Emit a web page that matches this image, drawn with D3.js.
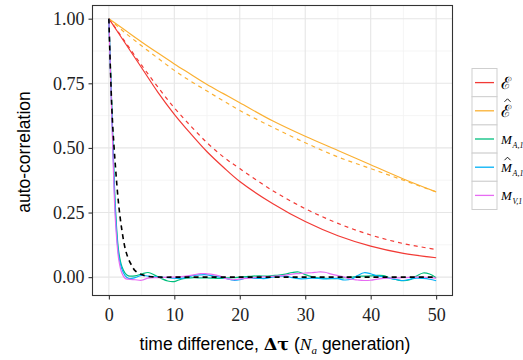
<!DOCTYPE html>
<html>
<head>
<meta charset="utf-8">
<script src="https://cdn.jsdelivr.net/npm/d3@7"></script>
<style>
  body { margin: 0; background: #fff; overflow: hidden; }
  svg { display: block; }
</style>
</head>
<body>
<div id="chartArea"></div>
<script>
// slow curves
const slowT = [0, 2.5, 5, 7.5, 10, 12.5, 15, 17.5, 20, 25, 30, 35, 40, 45, 50];
const epsSolid = [1, 0.905, 0.81, 0.715, 0.63, 0.555, 0.485, 0.425, 0.37, 0.285, 0.215, 0.16, 0.12, 0.092, 0.075];
const epsDashed = [1, 0.91, 0.82, 0.735, 0.655, 0.585, 0.52, 0.465, 0.42, 0.335, 0.265, 0.208, 0.163, 0.13, 0.107];
const hatSolid = [1, 0.955, 0.91, 0.867, 0.825, 0.785, 0.745, 0.71, 0.675, 0.605, 0.545, 0.49, 0.435, 0.38, 0.33];
const hatDashed = [1, 0.945, 0.895, 0.847, 0.80, 0.758, 0.72, 0.682, 0.645, 0.58, 0.52, 0.465, 0.42, 0.375, 0.33];

// fast curves
const fastT = [0, 0.5, 1, 1.5, 2, 2.5, 3, 4, 5, 6, 7, 8, 9, 10, 11, 12, 13, 14, 15, 16, 17, 18, 19, 20,
  21, 22, 23, 24, 25, 26, 27, 28, 29, 30, 31, 32, 33, 34, 35, 36, 37, 38, 39, 40,
  41, 42, 43, 44, 45, 46, 47, 48, 49, 50];
const mA = [1, 0.62, 0.27, 0.10, 0.04, 0.015, 0.005, 0.005, 0.012, 0.018, 0.008, -0.005, -0.015, -0.017,
  -0.008, -0.004, -0.002, -0.003, -0.003, -0.004, -0.005, -0.003, -0.002, 0.0,
  0.002, 0.004, 0.005, 0.004, 0.006, 0.008, 0.012, 0.018, 0.02, 0.01, 0.002, -0.003, -0.005, -0.006, -0.005,
  -0.002, 0.0, 0.003, 0.004, 0.005, 0.007, 0.006, -0.004, -0.01, -0.014, -0.01, 0.004, 0.016, 0.012, -0.002];
const mAhat = [1, 0.6, 0.25, 0.085, 0.03, 0.005, -0.005, -0.002, 0.007, 0.004, 0.001, 0.0, -0.002, -0.004,
  -0.005, 0.0, 0.007, 0.009, 0.009, 0.004, 0.0, -0.006, -0.012, -0.01,
  -0.003, -0.004, -0.005, -0.005, 0.0, 0.003, 0.004, -0.002, -0.006, -0.006, -0.004, -0.005, -0.007, -0.005, -0.006,
  -0.011, -0.008, 0.006, 0.017, 0.013, 0.005, 0.001, -0.005, -0.01, -0.013, -0.008, -0.004, -0.005, -0.008, -0.014];
const mV = [1, 0.58, 0.22, 0.07, 0.015, -0.005, -0.008, -0.01, -0.012, -0.004, -0.002, -0.002, 0.0, 0.0,
  0.002, 0.005, 0.009, 0.014, 0.013, 0.01, 0.004, -0.006, -0.01, -0.007,
  -0.005, -0.002, 0.0, 0.002, 0.003, 0.005, 0.008, 0.012, 0.014, 0.016, 0.017, 0.02, 0.019, 0.012, 0.006,
  0.0, -0.008, -0.011, -0.013, -0.012, -0.008, -0.005, -0.004, -0.003, -0.002, -0.001, 0.0, 0.0, -0.002, -0.004];
const expT = [0, 0.5, 1, 1.5, 2, 2.5, 3, 3.5, 4, 5, 6, 8, 10, 20, 30, 40, 50];
const expVals = [1, 0.63, 0.43, 0.28, 0.18, 0.11, 0.07, 0.045, 0.025, 0.01, 0.003, 0, 0, 0, 0, 0, 0];

const xTicks = [0, 10, 20, 30, 40, 50];
const yTicks = [0, 0.25, 0.5, 0.75, 1];
const legendNames = ["E", "Ehat", "MA", "MAhat", "MV"];
const colors = ["#F23A35", "#FBB032", "#00BF7D", "#00B0F6", "#E76BF3"];

const margin = { top: 5.5, left: 92.5 };
const width = 360, height = 290;

const svg = d3.select("#chartArea").append("svg")
  .attr("width", 523).attr("height", 360);
const g = svg.append("g").attr("transform", `translate(${margin.left},${margin.top})`);

const x = d3.scaleLinear().domain([-2.5, 52.5]).range([0, width]);
const y = d3.scaleLinear().domain([-0.071, 1.051]).range([height, 0]);

// grid
const minorX = [5, 15, 25, 35, 45], minorY = [0.125, 0.375, 0.625, 0.875];
g.selectAll(".mx").data(minorX).enter().append("line")
  .attr("x1", d => x(d)).attr("x2", d => x(d)).attr("y1", 0).attr("y2", height)
  .attr("stroke", "#f3f3f3").attr("stroke-width", 0.8);
g.selectAll(".my").data(minorY).enter().append("line")
  .attr("y1", d => y(d)).attr("y2", d => y(d)).attr("x1", 0).attr("x2", width)
  .attr("stroke", "#f3f3f3").attr("stroke-width", 0.8);
g.selectAll(".gx").data(xTicks).enter().append("line")
  .attr("x1", d => x(d)).attr("x2", d => x(d)).attr("y1", 0).attr("y2", height)
  .attr("stroke", "#e6e6e6").attr("stroke-width", 1.1);
g.selectAll(".gy").data(yTicks).enter().append("line")
  .attr("y1", d => y(d)).attr("y2", d => y(d)).attr("x1", 0).attr("x2", width)
  .attr("stroke", "#e6e6e6").attr("stroke-width", 1.1);

// lines
const line = d3.line().x(d => x(d[0])).y(d => y(d[1])).curve(d3.curveCatmullRom.alpha(0.5));
function series(ts, vs) { return ts.map((t, i) => [t, vs[i]]); }

const lines = [
  { d: series(slowT, epsDashed), c: colors[0], dash: "4,4" },
  { d: series(slowT, hatDashed), c: colors[1], dash: "4,4" },
  { d: series(slowT, epsSolid), c: colors[0] },
  { d: series(slowT, hatSolid), c: colors[1] },
  { d: series(fastT, mA), c: colors[2] },
  { d: series(fastT, mAhat), c: colors[3] },
  { d: series(fastT, mV), c: colors[4] },
  { d: series(expT, expVals), c: "#000", dash: "5,4", w: 1.6 }
];
lines.forEach(l => {
  g.append("path").attr("d", line(l.d))
    .attr("fill", "none").attr("stroke", l.c)
    .attr("stroke-width", l.w || 1.2)
    .attr("stroke-dasharray", l.dash || null);
});

// panel border
g.append("rect").attr("width", width).attr("height", height)
  .attr("fill", "none").attr("stroke", "#333").attr("stroke-width", 1.1);

// axes
const xAxis = g.append("g").attr("transform", `translate(0,${height})`)
  .call(d3.axisBottom(x).tickValues(xTicks).tickSize(4).tickPadding(5).tickFormat(d3.format("d")));
const yAxis = g.append("g")
  .call(d3.axisLeft(y).tickValues(yTicks).tickSize(4).tickPadding(4).tickFormat(d3.format(".2f")));
[xAxis, yAxis].forEach(a => {
  a.select(".domain").remove();
  a.selectAll(".tick line").attr("stroke", "#333").attr("stroke-width", 1.1);
  a.selectAll("text").attr("fill", "#222")
    .style("font-family", "'Liberation Serif', serif").style("font-size", "18px");
});
xAxis.selectAll("text").attr("dy", "0.9em");

// axis titles
svg.append("text")
  .attr("transform", "translate(30,152) rotate(-90)")
  .attr("text-anchor", "middle")
  .style("font-family", "'Liberation Sans', Arial, sans-serif").style("font-size", "17.5px")
  .text("auto-correlation");

const xt = svg.append("text").attr("x", 275).attr("y", 350)
  .attr("text-anchor", "middle")
  .style("font-family", "'Liberation Sans', Arial, sans-serif").style("font-size", "17.5px");
xt.append("tspan").text("time difference, ");
xt.append("tspan").style("font-family", "'DejaVu Serif', serif").style("font-weight", "bold").text("Δτ");
xt.append("tspan").text(" (");
xt.append("tspan").style("font-family", "'Liberation Serif', serif").style("font-style", "italic").text("N");
xt.append("tspan").attr("dy", 4).style("font-family", "'Liberation Serif', serif")
  .style("font-style", "italic").style("font-size", "11px").text("a");
xt.append("tspan").attr("dy", -4).text(" generation)");

// legend
const legend = svg.append("g").attr("transform", "translate(472,68.5)");
const keyH = 28.2, keyW = 25;
function hat(sel, cx, cy, w) {
  sel.append("path")
    .attr("d", `M${cx - w / 2},${cy + 2}L${cx},${cy - 1}L${cx + w / 2},${cy + 2}`)
    .attr("fill", "none").attr("stroke", "#000").attr("stroke-width", 0.9);
}
legendNames.forEach((name, i) => {
  const k = legend.append("g").attr("transform", `translate(0,${i * keyH})`);
  k.append("rect").attr("width", keyW).attr("height", keyH)
    .attr("fill", "#fff").attr("stroke", "#cfcfcf").attr("stroke-width", 1);
  k.append("line").attr("x1", 3).attr("x2", keyW - 3)
    .attr("y1", keyH / 2).attr("y2", keyH / 2)
    .attr("stroke", colors[i]).attr("stroke-width", 1.3);
  const lab = k.append("g").attr("transform", `translate(${keyW + 4},${keyH / 2})`)
    .style("font-family", "'DejaVu Serif', serif");
  if (name === "E" || name === "Ehat") {
    lab.append("text").attr("y", 6).style("font-size", "17px").text("ℰ");
    if (name === "Ehat") hat(lab, 6.5, -11, 6);
  } else {
    lab.append("text").attr("y", 5).style("font-family", "'Liberation Serif', serif")
      .style("font-style", "italic").style("font-size", "13px").text("M");
    lab.append("text").attr("x", 11.5).attr("y", 9).style("font-family", "'Liberation Serif', serif")
      .style("font-style", "italic").style("font-size", "8px")
      .text(name === "MV" ? "V,1" : "A,1");
    if (name === "MAhat") hat(lab, 6.5, -9, 6);
  }
});
</script>
</body>
</html>
